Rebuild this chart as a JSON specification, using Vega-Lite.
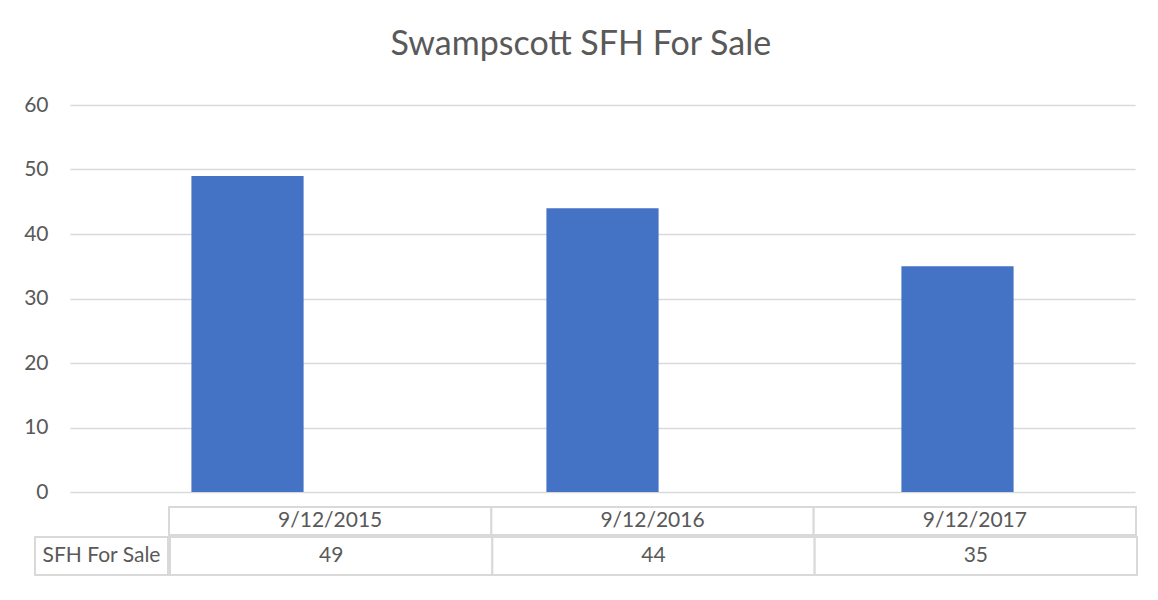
{
  "$schema": "https://vega.github.io/schema/vega-lite/v6.json",
  "background": "white",
  "padding": {"left": 23, "top": 28, "right": 20, "bottom": 10},
  "title": {"text": "Swampscott SFH For Sale", "font": "Lato", "fontSize": 34, "fontWeight": "normal", "color": "#595959", "anchor": "middle", "offset": 32},
  "data": {"values": [
    {"date": "9/12/2015", "series": "SFH For Sale", "value": 49},
    {"date": "9/12/2016", "series": "SFH For Sale", "value": 44},
    {"date": "9/12/2017", "series": "SFH For Sale", "value": 35}
  ]},
  "spacing": 4,
  "vconcat": [
    {
      "spacing": 22,
      "hconcat": [
        {
          "width": 13,
          "height": 387,
          "mark": {"type": "point", "opacity": 0},
          "encoding": {
            "y": {"field": "value", "type": "quantitative", "scale": {"domain": [0, 60]},
              "axis": {"orient": "right", "values": [0, 10, 20, 30, 40, 50, 60], "title": null, "domain": false, "ticks": false, "grid": false, "labelAlign": "right", "labelPadding": 0, "minExtent": 0, "maxExtent": 0, "labelFont": "Lato", "labelFontSize": 21, "labelColor": "#595959"}}
          }
        },
        {
          "width": 1065,
          "height": 387,
          "mark": {"type": "bar", "color": "#4472C4"},
          "encoding": {
            "x": {"field": "date", "type": "nominal", "sort": null, "scale": {"paddingInner": 0.684, "paddingOuter": 0.342}, "axis": null},
            "y": {"field": "value", "type": "quantitative", "scale": {"domain": [0, 60]},
              "axis": {"values": [0, 10, 20, 30, 40, 50, 60], "title": null, "domain": false, "ticks": false, "labels": false, "minExtent": 0, "maxExtent": 0, "gridColor": "#d9d9d9", "gridWidth": 1.5}}
          }
        }
      ]
    },
    {
      "spacing": 0,
      "vconcat": [
        {
          "spacing": 0,
          "hconcat": [
            {
              "width": 133, "height": 28,
              "mark": {"type": "text"},
              "encoding": {"text": {"value": ""}}
            },
            {
              "width": 967, "height": 28,
              "layer": [
                {"mark": {"type": "rect", "fill": "white", "stroke": "#d9d9d9", "strokeWidth": 2}},
                {"mark": {"type": "text", "font": "Lato", "fontSize": 21, "color": "#595959"}, "encoding": {"text": {"field": "date"}}}
              ],
              "encoding": {
                "x": {"field": "date", "type": "nominal", "sort": null, "scale": {"paddingInner": 0, "paddingOuter": 0}, "axis": null}
              }
            }
          ]
        },
        {
          "spacing": 0,
          "hconcat": [
            {
              "width": 133, "height": 38,
              "data": {"values": [{"series": "SFH For Sale"}]},
              "layer": [
                {"mark": {"type": "rect", "fill": "white", "stroke": "#d9d9d9", "strokeWidth": 2}, "encoding": {}},
                {"mark": {"type": "text", "font": "Lato", "fontSize": 21, "color": "#595959"}, "encoding": {"text": {"field": "series"}}}
              ]
            },
            {
              "width": 967, "height": 38,
              "layer": [
                {"mark": {"type": "rect", "fill": "white", "stroke": "#d9d9d9", "strokeWidth": 2}},
                {"mark": {"type": "text", "font": "Lato", "fontSize": 21, "color": "#595959"}, "encoding": {"text": {"field": "value"}}}
              ],
              "encoding": {
                "x": {"field": "date", "type": "nominal", "sort": null, "scale": {"paddingInner": 0, "paddingOuter": 0}, "axis": null}
              }
            }
          ]
        }
      ]
    }
  ],
  "config": {"view": {"stroke": null}}
}
